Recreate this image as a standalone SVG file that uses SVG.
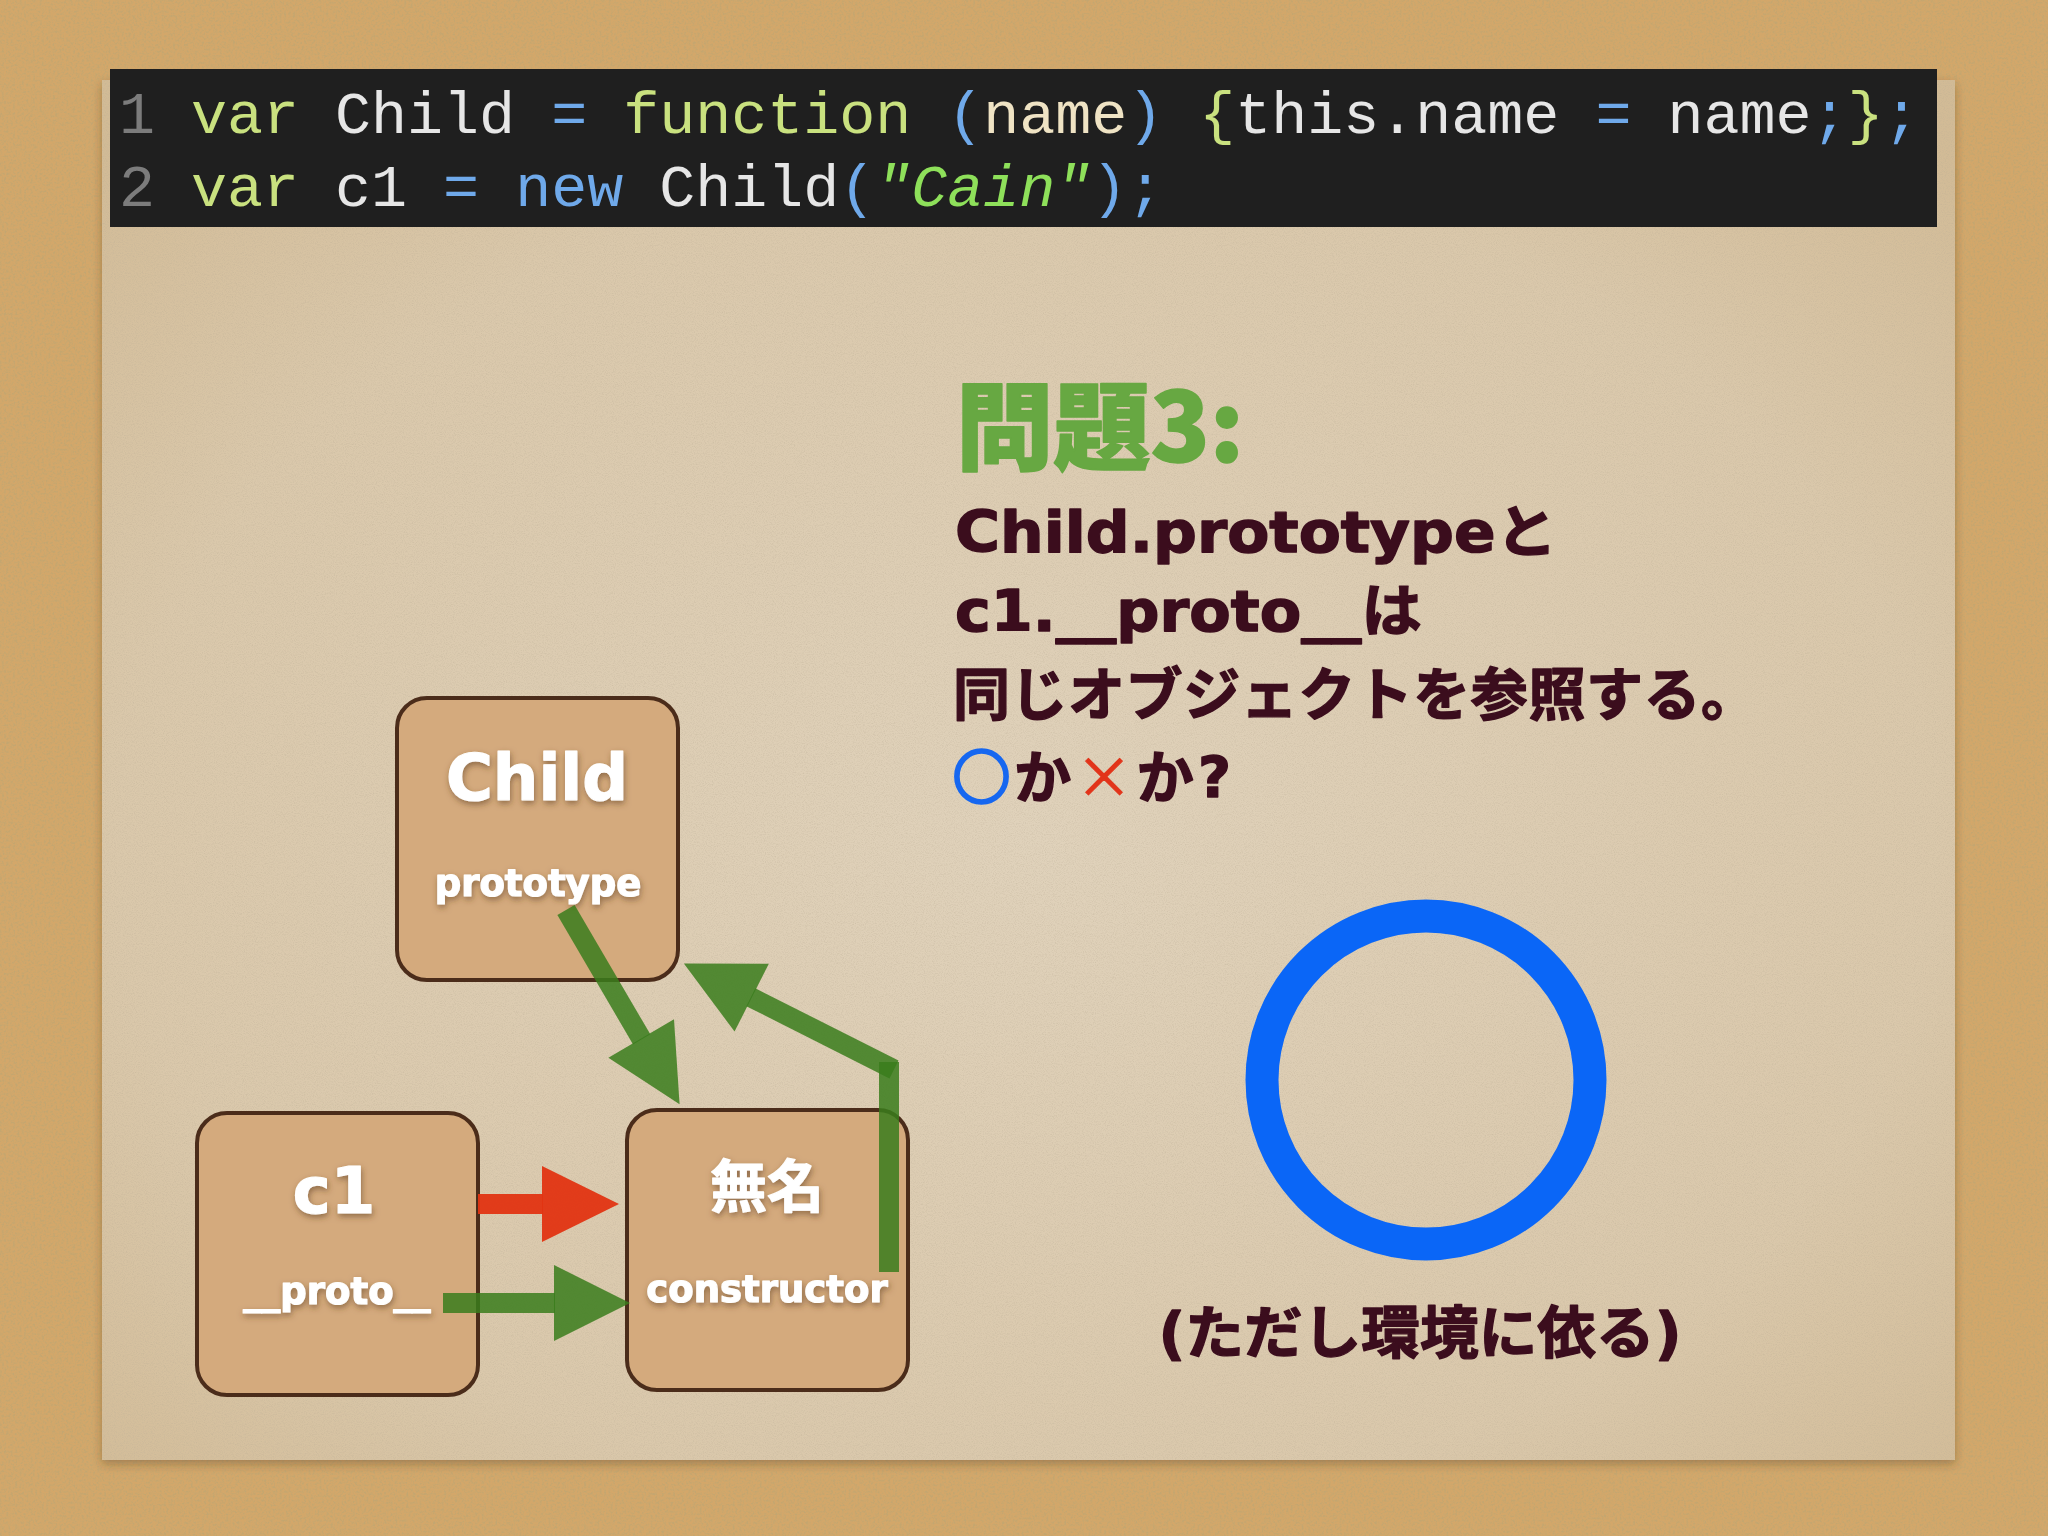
<svg xmlns="http://www.w3.org/2000/svg" width="2048" height="1536" viewBox="0 0 2048 1536">
  <defs>
    <style>
      .code { font-family: "Liberation Mono", "DejaVu Sans Mono", monospace; font-size: 60px; }
      .ln { fill: #7c7c7c; }
      .kw { fill: #c9e17f; }
      .id { fill: #e6e6e6; }
      .op { fill: #6fa9ea; }
      .arg { fill: #efe3c4; }
      .str { fill: #8ee05a; font-style: italic; }
      .q { font-family: "DejaVu Sans", "Noto Sans CJK JP", sans-serif; font-weight: bold; font-size: 57px; fill: #3b0d1d; stroke: #3b0d1d; stroke-width: 1.4; stroke-linejoin: round; }
      .title { font-family: "Noto Sans CJK JP", "DejaVu Sans", sans-serif; font-weight: 900; font-size: 96px; fill: #67a842; stroke: #67a842; stroke-width: 1.5; stroke-linejoin: round; }
      .box { fill: #d4aa7d; stroke: #4b2c1a; stroke-width: 4; }
      .lbl { font-family: "DejaVu Sans", "Noto Sans CJK JP", sans-serif; font-weight: bold; fill: #ffffff; stroke: #ffffff; stroke-width: 1.2; stroke-linejoin: round; text-anchor: middle; filter: url(#ts); }
      .big { font-size: 64px; }
      .small { font-size: 37px; }
      .g { fill: none; stroke: #3a7d1c; stroke-opacity: 0.85; stroke-width: 20; }
      .r { fill: none; stroke: #e23412; stroke-opacity: 0.95; stroke-width: 20; }
    </style>
    <filter id="cork" x="0" y="0" width="100%" height="100%">
      <feTurbulence type="fractalNoise" baseFrequency="0.45" numOctaves="3" seed="4" result="n"/>
      <feColorMatrix in="n" type="matrix" values="0 0 0 0 0.55  0 0 0 0 0.38  0 0 0 0 0.16  2.6 0 0 0 -1.05" result="s"/>
      <feComposite in="s" in2="SourceGraphic" operator="atop"/>
    </filter>
    <filter id="paperTex" x="-2%" y="-2%" width="104%" height="104%">
      <feTurbulence type="fractalNoise" baseFrequency="0.9" numOctaves="2" seed="7" result="n"/>
      <feColorMatrix in="n" type="matrix" values="0 0 0 0 0.5  0 0 0 0 0.42  0 0 0 0 0.3  0.9 0 0 0 -0.38" result="s"/>
      <feComposite in="s" in2="SourceGraphic" operator="atop" result="t"/>
      <feDropShadow in="t" dx="0" dy="4" stdDeviation="5" flood-color="#4a3015" flood-opacity="0.35"/>
    </filter>
    <filter id="ts" x="-20%" y="-30%" width="140%" height="170%">
      <feDropShadow dx="1" dy="3" stdDeviation="3" flood-color="#5a3a1e" flood-opacity="0.55"/>
    </filter>
    <radialGradient id="paperG" cx="50%" cy="55%" r="70%">
      <stop offset="0" stop-color="#e0d2bb"/>
      <stop offset="0.7" stop-color="#dac8ab"/>
      <stop offset="1" stop-color="#d2bb96"/>
    </radialGradient>
    <marker id="hg" markerUnits="userSpaceOnUse" markerWidth="80" markerHeight="80" refX="1" refY="38" orient="auto" overflow="visible">
      <path d="M0,0 L76,38 L0,76 Z" fill="#3a7d1c" fill-opacity="0.85"/>
    </marker>
    <marker id="hr" markerUnits="userSpaceOnUse" markerWidth="80" markerHeight="80" refX="1" refY="38" orient="auto" overflow="visible">
      <path d="M0,0 L77,38 L0,76 Z" fill="#e23412" fill-opacity="0.95"/>
    </marker>
  </defs>

  <!-- background -->
  <rect x="0" y="0" width="2048" height="1536" fill="#d3a76a" filter="url(#cork)"/>
  <rect x="102" y="80" width="1853" height="1380" fill="url(#paperG)" filter="url(#paperTex)"/>

  <!-- code bar -->
  <g id="code">
    <rect x="110" y="69" width="1827" height="158" fill="#1f1f1f"/>
    <text class="code" x="119" y="133" xml:space="preserve"><tspan class="ln">1</tspan> <tspan class="kw">var</tspan> <tspan class="id">Child</tspan> <tspan class="op">=</tspan> <tspan class="kw">function</tspan> <tspan class="op">(</tspan><tspan class="arg">name</tspan><tspan class="op">)</tspan> <tspan class="kw">{</tspan><tspan class="id">this.name</tspan> <tspan class="op">=</tspan> <tspan class="id">name</tspan><tspan class="op">;</tspan><tspan class="kw">}</tspan><tspan class="op">;</tspan></text>
    <text class="code" x="119" y="206" xml:space="preserve"><tspan class="ln">2</tspan> <tspan class="kw">var</tspan> <tspan class="id">c1</tspan> <tspan class="op">=</tspan> <tspan class="op">new</tspan> <tspan class="id">Child</tspan><tspan class="op">(</tspan><tspan class="str">"Cain"</tspan><tspan class="op">)</tspan><tspan class="op">;</tspan></text>
  </g>

  <!-- question -->
  <g id="question">
    <text class="title" x="956" y="462" textLength="288" lengthAdjust="spacingAndGlyphs">問題3:</text>
    <text class="q" x="955" y="552" textLength="602" lengthAdjust="spacingAndGlyphs">Child.prototypeと</text>
    <text class="q" x="955" y="631" textLength="467" lengthAdjust="spacingAndGlyphs">c1.__proto__は</text>
    <text class="q" x="953" y="715" textLength="805">同じオブジェクトを参照する。</text>
    <text class="q" x="953" y="798" textLength="278"><tspan fill="#1667f0" stroke="#1667f0" stroke-width="3.5" font-family="Noto Sans CJK JP" font-weight="normal">○</tspan>か<tspan fill="#e2341a" stroke="#e2341a" stroke-width="1" font-family="Noto Sans CJK JP" font-weight="normal">×</tspan>か?</text>
  </g>

  <!-- answer -->
  <g id="answer">
    <circle cx="1426" cy="1080" r="164" fill="none" stroke="#0a66f7" stroke-width="33"/>
    <text class="q" x="1420" y="1353" font-size="60" stroke-width="1.8" text-anchor="middle" textLength="523" lengthAdjust="spacingAndGlyphs">(ただし環境に依る)</text>
  </g>

  <!-- nodes -->
  <g id="node-child">
    <rect class="box" x="397" y="698" width="281" height="282" rx="30"/>
    <text class="lbl big" x="537" y="800">Child</text>
    <text class="lbl small" x="538" y="896">prototype</text>
  </g>
  <g id="node-c1">
    <rect class="box" x="197" y="1113" width="281" height="282" rx="30"/>
    <text class="lbl big" x="334" y="1213" font-size="62">c1</text>
    <text class="lbl small" x="337" y="1304">__proto__</text>
  </g>
  <g id="node-anon">
    <rect class="box" x="627" y="1110" width="281" height="280" rx="30"/>
    <text class="lbl" x="767" y="1207" font-size="57">無名</text>
    <text class="lbl small" x="767" y="1302" font-size="38">constructor</text>
  </g>

  <!-- connectors -->
  <g id="connectors">
    <path class="g" d="M566,910 L641.7,1039.4" marker-end="url(#hg)"/>
    <path class="g" d="M889,1272 L889,1062"/>
    <path class="g" d="M894,1069.5 L750.8,997.2" marker-end="url(#hg)"/>
    <path class="r" d="M478,1204 L543,1204" marker-end="url(#hr)"/>
    <path class="g" d="M443,1303 L555,1303" marker-end="url(#hg)"/>
  </g>
</svg>
